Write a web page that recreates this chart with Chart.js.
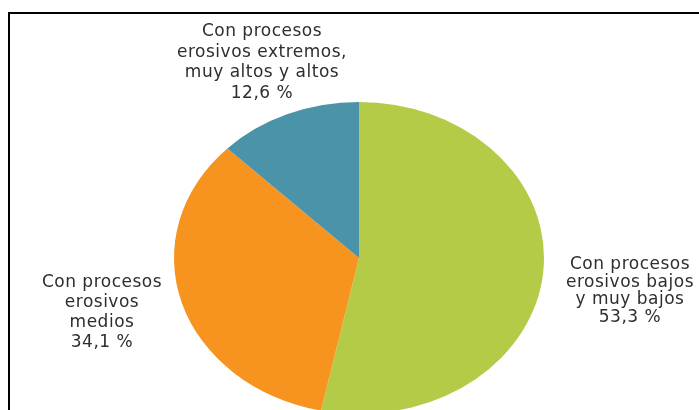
<!DOCTYPE html>
<html>
<head>
<meta charset="utf-8">
<script src="https://cdn.jsdelivr.net/npm/chart.js@4/dist/chart.umd.min.js"></script>
<style>
  html, body { margin: 0; padding: 0; background: #fff; overflow: hidden; width: 699px; height: 410px; }
  #wrap { position: relative; width: 699px; height: 410px; overflow: hidden; }
  #frame { position: absolute; left: 8px; top: 12px; width: 700px; height: 410px;
           border-top: 2px solid #000; border-left: 2px solid #000; pointer-events: none; }
  canvas { position: absolute; left: 0; top: 0; }
</style>
</head>
<body>
<div id="wrap">
  <canvas id="myChart" width="699" height="450"></canvas>
  <div id="frame"></div>
</div>
<script>
const categories = [
  ['Con procesos', 'erosivos bajos', 'y muy bajos'],
  ['Con procesos', 'erosivos', 'medios'],
  ['Con procesos', 'erosivos extremos,', 'muy altos y altos']
];
const shares = [53.3, 34.1, 12.6];
const valueLabels = ['53,3 %', '34,1 %', '12,6 %'];
const colors = ['#b4cb48', '#f6941f', '#4a93a9'];

// where each label block sits (centre x, first line y, line height)
const labelSpots = [
  { x: 630, y: 265, lh: 17.5 },
  { x: 102, y: 283, lh: 20 },
  { x: 262, y: 32, lh: 20.5 }
];

// the original pie is squashed into an ellipse
const squash = 156 / 185;

const ellipsePlugin = {
  id: 'ellipse',
  beforeDatasetsDraw(chart) {
    const arc = chart.getDatasetMeta(0).data[0];
    const ctx = chart.ctx;
    ctx.save();
    ctx.translate(arc.x, arc.y);
    ctx.scale(1, squash);
    ctx.translate(-arc.x, -arc.y);
  },
  afterDatasetsDraw(chart) {
    chart.ctx.restore();
  }
};

const labelPlugin = {
  id: 'sliceLabels',
  afterDraw(chart) {
    const ctx = chart.ctx;
    ctx.save();
    ctx.font = '17px "DejaVu Sans"';
    ctx.letterSpacing = '0.5px';
    ctx.fillStyle = '#2e2e2e';
    ctx.textAlign = 'center';
    ctx.textBaseline = 'middle';
    chart.data.labels.forEach((lab, i) => {
      const spot = labelSpots[i];
      const lines = lab.concat([valueLabels[i]]);
      lines.forEach((t, k) => ctx.fillText(t, spot.x, spot.y + k * spot.lh));
    });
    ctx.restore();
  }
};

const ctx = document.getElementById('myChart').getContext('2d');
new Chart(ctx, {
  type: 'pie',
  data: {
    labels: categories,
    datasets: [{
      data: shares,
      backgroundColor: colors,
      borderWidth: 0
    }]
  },
  options: {
    responsive: false,
    animation: false,
    devicePixelRatio: 1,
    layout: { padding: { left: 174, right: 155, top: 73, bottom: 7 } },
    plugins: {
      legend: { display: false },
      tooltip: { enabled: false }
    }
  },
  plugins: [ellipsePlugin, labelPlugin]
});
</script>
</body>
</html>
